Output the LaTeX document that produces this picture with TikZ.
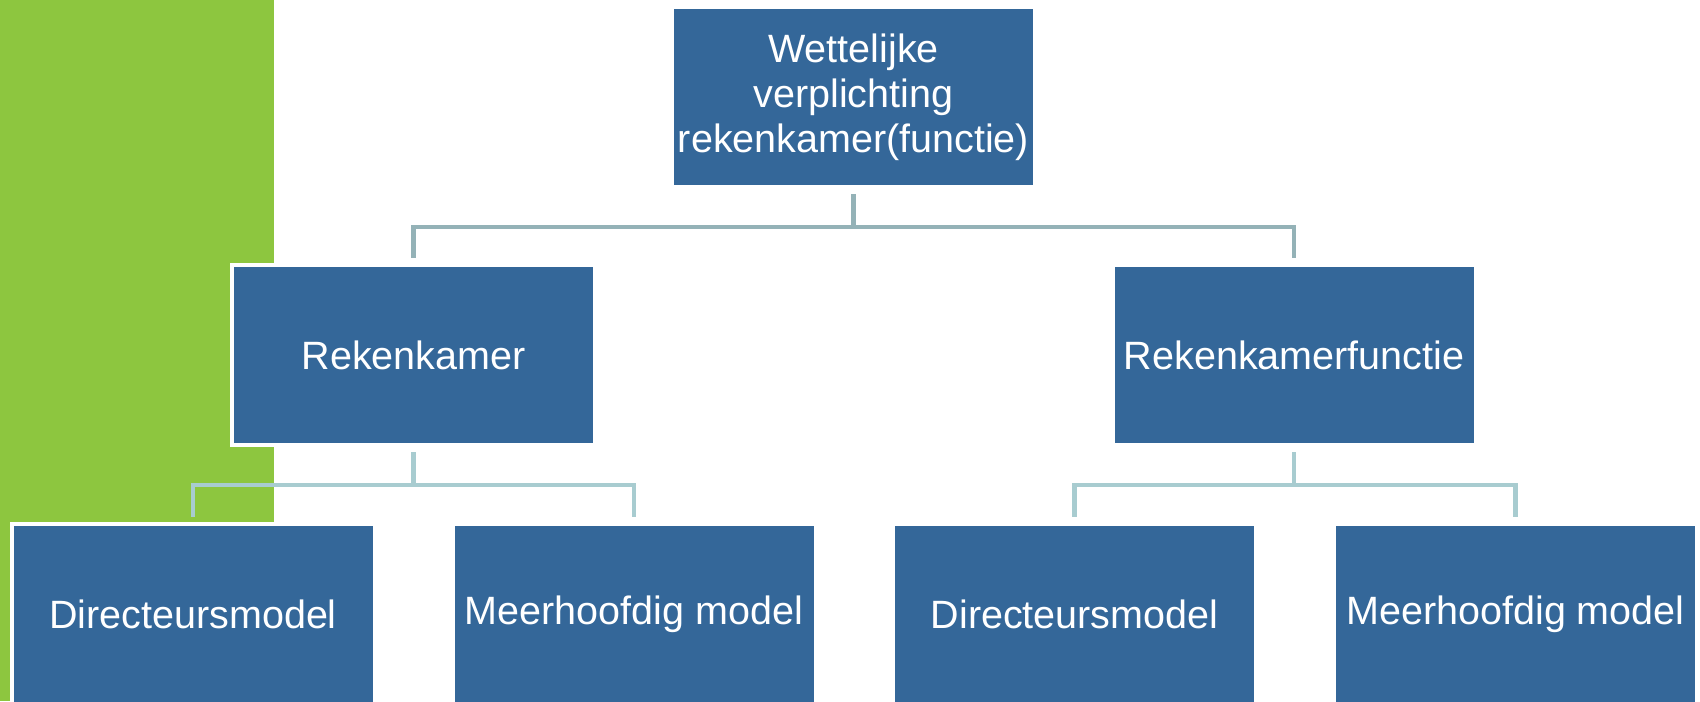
\documentclass[tikz,border=0pt]{standalone}
\usepackage{xcolor}
\usepackage{fontspec}
\setmainfont{Liberation Sans}
\usepackage{tikz}

\definecolor{bandgreen}{RGB}{141,198,63}
\definecolor{boxblue}{RGB}{52,103,153}
\definecolor{linktop}{RGB}{148,178,183}
\definecolor{linklow}{RGB}{168,204,208}

\begin{document}
\begin{tikzpicture}[x=0.5pt,y=-0.5pt,
    box/.style={draw=white, line width=2pt, fill=boxblue, text=white,
        minimum width=181.5pt, minimum height=90pt, inner sep=0pt, align=center,
        font=\fontsize{19.75}{22.5}\selectfont},
    link/.style={line width=2.4pt, shorten <=2.5pt, shorten >=2.5pt}]
    \useasboundingbox (0,0) rectangle (1700,701);
    \fill[bandgreen] (0,0) rectangle (274,701);

    \node[box] (wet) at (853.5,97) {Wettelijke\\verplichting\\rekenkamer(functie)};

    \node[box] (rk) at (413.5,355) {Rekenkamer};
    \node[box] (rkf) at (1294,355) {Rekenkamerfunctie};

    \node[box] (dir1) at (193,614) {Directeursmodel};
    \node[box] (mhm1) at (634,614) {Meerhoofdig model};
    \node[box] (dir2) at (1074.5,614) {Directeursmodel};
    \node[box] (mhm2) at (1515.5,614) {Meerhoofdig model};

    % top level
    \draw[link, linktop] (wet.south) -- ++(0,-19pt) -| (rk.north);
    \draw[link, linktop] (wet.south) -- ++(0,-19pt) -| (rkf.north);

    % second level
    \draw[link, linklow] (rk.south) -- ++(0,-19pt) -| (dir1.north);
    \draw[link, linklow] (rk.south) -- ++(0,-19pt) -| (mhm1.north);
    \draw[link, linklow] (rkf.south) -- ++(0,-19pt) -| (dir2.north);
    \draw[link, linklow] (rkf.south) -- ++(0,-19pt) -| (mhm2.north);
\end{tikzpicture}
\end{document}
